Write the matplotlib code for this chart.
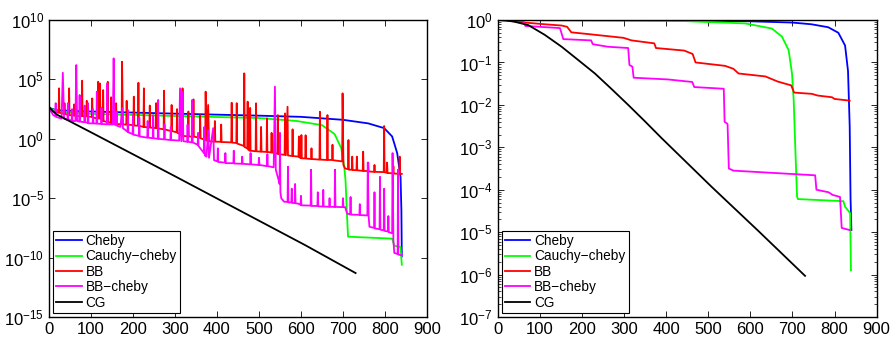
import numpy as np
import matplotlib
matplotlib.use('Agg')
import matplotlib.pyplot as plt
from matplotlib.ticker import NullLocator, LogLocator

plt.rcParams['font.family'] = ['Liberation Sans', 'DejaVu Sans']
plt.rcParams['mathtext.default'] = 'regular'
plt.rcParams['font.size'] = 10

labels = ['Cheby', 'Cauchy\u2212cheby', 'BB', 'BB\u2212cheby', 'CG']
colors = ['#0000ff', '#00ff00', '#ff0000', '#ff00ff', '#000000']

# ---- left panel, values as (iteration, log10 value) ----
cheby_left = [(0, 2.6), (20, 2.4), (100, 2.3), (300, 2.12), (500, 1.95), (600, 1.85),
              (700, 1.6), (760, 1.3), (798, 0.9), (817, 0.2), (829, -1.2), (837, -3.2),
              (839, -6.0), (840, -9.9)]
cauchy_left = [(0, 2.6), (20, 2.3), (100, 2.1), (300, 1.92), (500, 1.75), (590, 1.5),
               (650, 1.15), (680, 0.4), (696, -0.8), (703, -2.35), (706, -3.5), (709, -6.0),
               (712, -8.24), (817, -8.4), (822, -9.0), (837, -9.1), (840, -10.6)]
bb_left = [(0, 2.6), (10, 2.3), (23, 2.2), (24, 4.25), (25, 2.2), (36, 2.1), (37, 3.0), (38, 2.1),
           (47, 2.0), (48, 4.25), (49, 2.0), (59, 1.95), (60, 2.9), (61, 1.95), (78, 1.9), (79, 4.89),
           (80, 1.9), (89, 1.9), (90, 3.2), (91, 1.88), (102, 1.85), (103, 3.4), (104, 1.8),
           (116, 1.7), (117, 4.8), (119, 1.7), (121, 4.67), (123, 1.65), (128, 1.5), (129, 4.1),
           (130, 1.5), (139, 1.4), (140, 4.8), (141, 1.4), (147, 1.35), (148, 3.5), (149, 1.3),
           (159, 1.28), (160, 3.0), (161, 1.25), (173, 1.22), (174, 6.49), (176, 1.22), (184, 1.2),
           (185, 3.2), (186, 1.2), (201, 1.15), (202, 3.55), (203, 1.12), (212, 1.1), (213, 4.72),
           (214, 1.1), (225, 1.0), (226, 4.25), (227, 1.0), (239, 0.95), (240, 2.8), (241, 0.95),
           (254, 0.9), (255, 3.0), (256, 0.9), (273, 0.8), (274, 4.05), (275, 0.8), (291, 0.65),
           (292, 2.85), (293, 0.65), (304, 0.55), (305, 2.5), (306, 0.5), (317, 0.3), (318, 4.25),
           (319, 0.25), (331, 0.2), (332, 2.3), (333, 0.2), (343, 0.18), (344, 3.32), (345, 0.18),
           (359, 0.1), (360, 2.0), (361, 0.05), (372, -0.1), (373, 3.97), (375, -0.15), (379, 2.85),
           (381, -0.2), (394, -0.24), (395, 1.5), (396, -0.24), (409, -0.25), (410, 1.2), (411, -0.27),
           (434, -0.3), (435, 3.04), (436, -0.32), (446, -0.35), (447, 3.0), (448, -0.4),
           (464, -0.6), (465, 5.51), (466, -0.7), (472, -0.8), (473, 3.13), (474, -0.9),
           (478, -1.0), (479, 2.6), (480, -1.0), (492, -1.05), (493, 2.99), (494, -1.05),
           (504, -1.08), (505, 1.0), (506, -1.08), (518, -1.1), (519, 1.72), (520, -1.1),
           (529, -1.15), (530, 0.5), (531, -1.15), (544, -1.25), (545, 2.0), (546, -1.28),
           (561, -1.35), (562, 2.14), (564, -1.38), (568, 2.7), (569, -1.4), (579, -1.45),
           (580, 0.8), (581, -1.45), (594, -1.5), (595, 0.2), (596, -1.55), (600, -1.64),
           (601, 0.32), (602, -1.64), (610, -1.65), (611, 0.3), (612, -1.66), (624, -1.7),
           (625, -0.8), (626, -1.7), (644, -1.75), (645, 2.28), (646, -1.75), (662, -1.78),
           (663, 2.0), (664, -1.78), (674, -1.78), (675, -0.5), (676, -1.8), (698, -1.9),
           (699, 3.83), (701, -2.2), (705, -2.5), (712, -2.55), (713, -0.1), (714, -2.6),
           (721, -2.6), (722, -1.5), (723, -2.62), (732, -2.65), (733, -1.5), (734, -2.65),
           (747, -2.7), (748, -1.08), (749, -2.7), (759, -2.72), (760, -2.0), (761, -2.75),
           (774, -2.78), (775, -2.2), (776, -2.78), (797, -2.8), (798, 1.08), (799, -2.82),
           (804, -2.85), (805, -2.0), (806, -2.88), (819, -2.9), (820, -2.3), (821, -2.92),
           (834, -2.95), (835, -1.5), (836, -2.95), (840, -2.95)]
bbcheby_left = [(0, 2.6), (10, 2.0), (15, 1.9), (16, 3.0), (17, 1.85), (30, 1.7), (33, 5.56),
                (36, 1.7), (44, 1.6), (45, 3.0), (46, 1.6), (54, 1.55), (55, 2.5), (56, 1.5),
                (63, 1.5), (65, 6.21), (67, 1.5), (72, 1.45), (73, 3.69), (74, 1.45), (84, 1.4),
                (85, 2.8), (86, 1.4), (92, 1.35), (93, 3.0), (94, 1.3), (104, 1.3), (105, 2.5),
                (106, 1.3), (113, 1.28), (114, 3.97), (115, 1.28), (124, 1.25), (125, 2.6), (126, 1.25),
                (138, 1.22), (139, 4.67), (140, 1.22), (152, 1.2), (154, 6.77), (156, 1.2), (160, 1.15),
                (161, 2.28), (162, 1.1), (170, 1.0), (175, 2.6), (176, 0.9), (187, 0.6), (188, 2.42),
                (189, 0.55), (199, 0.4), (200, 2.0), (201, 0.35), (214, 0.25), (215, 1.8), (216, 0.2),
                (234, 0.1), (235, 1.5), (236, 0.1), (247, 0.05), (248, 2.0), (249, 0.05), (259, 0.0),
                (260, 3.27), (261, 0.0), (274, -0.05), (275, 1.2), (276, -0.05), (289, -0.1),
                (290, 1.0), (291, -0.1), (310, -0.15), (312, 4.25), (315, -0.2), (318, 3.97),
                (320, -0.2), (329, -0.25), (330, 1.2), (331, -0.25), (340, -0.3), (341, 3.27),
                (342, -0.3), (354, -0.5), (355, 0.5), (356, -0.6), (369, -1.2), (370, 1.0),
                (371, -1.4), (375, -1.5), (379, 0.74), (381, -1.6), (391, 0.9), (393, -1.8),
                (401, -1.9), (402, -0.8), (403, -1.95), (419, -2.0), (420, -1.2), (421, -2.05),
                (439, -2.05), (440, -1.0), (441, -2.08), (459, -2.1), (460, -1.5), (461, -2.1),
                (479, -2.15), (480, -1.2), (481, -2.15), (499, -2.2), (500, -1.6), (501, -2.2),
                (519, -2.3), (520, -1.3), (521, -2.3), (535, -2.4), (538, 4.39), (540, -2.6),
                (547, -3.5), (549, -3.8), (550, 0.5), (551, -4.5), (553, -5.0), (560, -5.3),
                (568, -5.3), (569, -2.35), (570, -5.35), (577, -5.35), (578, -4.2), (579, -5.4),
                (585, -5.4), (586, -3.8), (587, -5.43), (593, -5.45), (599, -5.55), (600, -4.8),
                (601, -5.6), (623, -5.62), (624, -2.6), (625, -5.65), (639, -5.65), (640, -4.5),
                (641, -5.68), (652, -5.7), (653, -4.3), (654, -5.7), (667, -5.72), (668, -5.0),
                (669, -5.72), (680, -5.73), (681, -2.6), (682, -5.73), (699, -5.75), (700, -5.0),
                (701, -5.75), (705, -5.75), (710, -6.3), (717, -6.35), (718, -4.9), (719, -6.38),
                (739, -6.4), (740, -5.5), (741, -6.42), (758, -6.45), (759, -2.0), (761, -6.5),
                (763, -7.4), (774, -7.5), (775, -4.5), (776, -7.55), (787, -7.6), (788, -3.2),
                (789, -7.65), (797, -7.7), (798, -4.2), (799, -7.75), (807, -7.8), (808, -6.5),
                (809, -7.85), (817, -7.95), (818, -1.2), (820, -8.5), (822, -9.6), (830, -9.7),
                (831, -2.6), (832, -9.75), (840, -9.8)]
cg_left = [(0, 2.7), (10, 2.3), (21, 2.0), (100, 0.55), (300, -3.15), (610, -8.95), (730, -11.3)]

# ---- right panel ----
cheby_right = [(0, 0.0), (400, -0.01), (600, -0.03), (700, -0.06), (745, -0.1), (785, -0.17),
               (809, -0.3), (825, -0.6), (832, -1.2), (836, -2.5), (838, -4.2), (840, -4.95)]
cauchy_right = [(0, 0.0), (300, -0.01), (430, -0.02), (588, -0.08), (651, -0.2), (675, -0.39),
                (691, -0.71), (699, -1.26), (703, -1.89), (707, -3.06), (711, -4.16), (713, -4.22),
                (821, -4.27), (825, -4.4), (837, -4.55), (839, -5.9)]
bb_right = [(0, 0.0), (30, -0.02), (65, -0.06), (112, -0.1), (152, -0.13), (165, -0.16),
            (175, -0.29), (214, -0.33), (299, -0.42), (318, -0.48), (372, -0.55), (376, -0.66),
            (443, -0.72), (463, -0.8), (470, -1.0), (540, -1.08), (560, -1.15), (572, -1.26),
            (636, -1.33), (665, -1.45), (697, -1.54), (704, -1.71), (746, -1.74), (760, -1.78),
            (794, -1.82), (800, -1.86), (836, -1.9)]
bbcheby_right = [(0, 0.0), (40, 0.0), (60, -0.02), (66, -0.14), (148, -0.19), (156, -0.45),
                 (222, -0.48), (226, -0.57), (262, -0.63), (310, -0.66), (313, -1.06), (320, -1.1),
                 (323, -1.36), (404, -1.4), (462, -1.46), (467, -1.58), (537, -1.62), (539, -2.4),
                 (546, -2.45), (549, -3.5), (560, -3.55), (754, -3.66), (757, -4.0), (786, -4.06),
                 (795, -4.12), (813, -4.17), (817, -4.9), (836, -4.95)]
cg_right = [(0, 0.0), (20, -0.01), (40, -0.04), (73, -0.12), (112, -0.35), (152, -0.63),
            (191, -0.94), (231, -1.26), (271, -1.63), (310, -2.0), (350, -2.39), (389, -2.78),
            (508, -3.93), (620, -4.98), (730, -6.03)]

left_series = [cheby_left, cauchy_left, bb_left, bbcheby_left, cg_left]
right_series = [cheby_right, cauchy_right, bb_right, bbcheby_right, cg_right]

fig = plt.figure(figsize=(8.95, 3.4), dpi=100)
ax1 = fig.add_axes([0.0547, 0.0676, 0.4224, 0.8735])
ax2 = fig.add_axes([0.556, 0.0676, 0.4235, 0.8735])

for ax, series in [(ax1, left_series), (ax2, right_series)]:
    for s, c, lab in zip(series, colors, labels):
        x = np.array([p[0] for p in s])
        y = 10.0 ** np.array([p[1] for p in s])
        ax.semilogy(x, y, color=c, lw=1.3, label=lab)
    ax.set_xlim(0, 900)
    ax.set_xticks(range(0, 901, 100))
    ax.tick_params(which='both', direction='in', top=True, right=True, labelsize=12)
    ax.tick_params(which='major', length=4, width=0.6)
    ax.tick_params(which='minor', length=2, width=0.5)
    for sp in ax.spines.values():
        sp.set_linewidth(1.0)
    leg = ax.legend(loc='lower left', fontsize=9.8, handlelength=1.85, handletextpad=0.3,
                    labelspacing=0.1, borderpad=0.25, borderaxespad=0.3, fancybox=False,
                    framealpha=1)
    leg.get_frame().set_edgecolor('black')
    leg.get_frame().set_linewidth(0.8)

ax1.set_ylim(1e-15, 1e10)
ax1.set_yticks([1e-15, 1e-10, 1e-5, 1e0, 1e5, 1e10])
ax1.yaxis.set_minor_locator(NullLocator())

ax2.set_ylim(1e-7, 1e0)
ax2.set_yticks([10.0 ** k for k in range(-7, 1)])
ax2.yaxis.set_minor_locator(LogLocator(base=10, subs=np.arange(2, 10)))

fig.savefig('out.png', dpi=100)
